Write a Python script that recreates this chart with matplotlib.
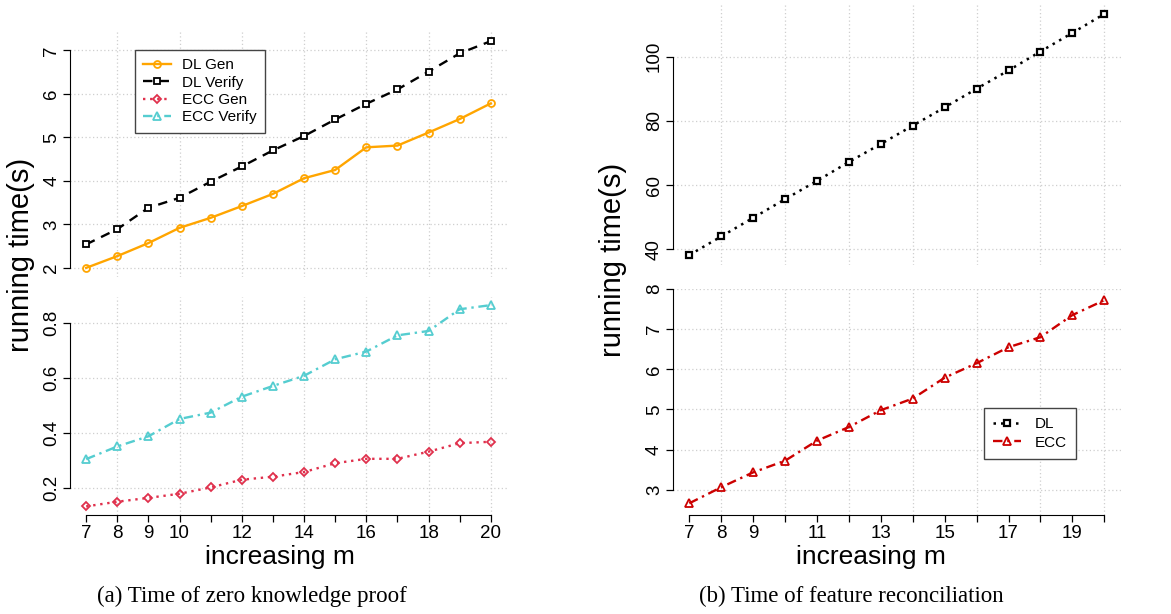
import matplotlib.pyplot as plt

plt.rcParams['font.family'] = ['Liberation Sans', 'DejaVu Sans']

# Data
m = list(range(7, 21))

# (a) zero knowledge proof
dl_gen = [2.00, 2.27, 2.57, 2.92, 3.15, 3.42, 3.70, 4.06, 4.25, 4.77, 4.81, 5.11, 5.42, 5.78]
dl_verify = [2.54, 2.89, 3.38, 3.61, 3.98, 4.33, 4.70, 5.03, 5.41, 5.77, 6.10, 6.51, 6.93, 7.21]
ecc_gen = [0.132, 0.149, 0.163, 0.178, 0.201, 0.229, 0.240, 0.257, 0.289, 0.305, 0.305, 0.331, 0.362, 0.367]
ecc_verify = [0.304, 0.350, 0.387, 0.450, 0.473, 0.531, 0.570, 0.607, 0.667, 0.695, 0.754, 0.770, 0.849, 0.864]

# (b) feature reconciliation
rec_dl = [38.2, 44.0, 49.8, 55.6, 61.3, 67.2, 72.8, 78.5, 84.2, 90.0, 95.7, 101.6, 107.4, 113.3]
rec_ecc = [2.66, 3.06, 3.43, 3.72, 4.22, 4.56, 4.98, 5.27, 5.79, 6.15, 6.55, 6.80, 7.35, 7.72]

xlabels_a = ['7', '8', '9', '10', '', '12', '', '14', '', '16', '', '18', '', '20']
xlabels_b = ['7', '8', '9', '', '11', '', '13', '', '15', '', '17', '', '19', '']

W, H = 1171, 614
fig = plt.figure(figsize=(W / 100, H / 100), dpi=100)


def add_axes(x0, x1, y0, y1):
    # pixel box -> figure fraction
    return fig.add_axes([x0 / W, 1 - y1 / H, (x1 - x0) / W, (y1 - y0) / H])


def style(ax, yticks, ylabels, xlim, ylim, xticklabels=None):
    ax.set_xlim(*xlim)
    ax.set_ylim(*ylim)
    for s in ['top', 'right']:
        ax.spines[s].set_visible(False)
    ax.spines['left'].set_bounds(yticks[0], yticks[-1])
    ax.set_yticks(yticks)
    ax.set_yticklabels(ylabels, rotation=90, va='center')
    ax.tick_params(direction='out', length=5, width=0.9, labelsize=13.5, pad=2)
    for xg in range(8, 21, 2):
        ax.axvline(xg, color='#cfcfcf', lw=0.9, dashes=(1, 2), zorder=0)
    for yg in yticks:
        ax.axhline(yg, color='#cfcfcf', lw=0.9, dashes=(1, 2), zorder=0)
    if xticklabels is None:
        ax.spines['bottom'].set_visible(False)
        ax.tick_params(axis='x', bottom=False, labelbottom=False)
    else:
        ax.spines['bottom'].set_bounds(7, 20)
        ax.set_xticks(m)
        ax.set_xticklabels(xticklabels)


xl = (6.48, 20.52)

# ---- (a)
ax1 = add_axes(70, 507, 32, 277)
style(ax1, [2, 3, 4, 5, 6, 7], ['2', '3', '4', '5', '6', '7'], xl, (1.79, 7.42))
ax2 = add_axes(70, 507, 297, 515)
style(ax2, [0.2, 0.4, 0.6, 0.8], ['0.2', '0.4', '0.6', '0.8'], xl, (0.1007, 0.8935), xlabels_a)

orange = '#FFA500'
crimson = '#E0304C'
turq = '#55CDD0'
h1, = ax1.plot(m, dl_gen, color=orange, lw=1.7, marker='o', ms=5, mfc='none', mew=1.3, label='DL Gen')
h2, = ax1.plot(m, dl_verify, color='black', lw=1.7, dashes=(4, 3), marker='s', ms=4.5, mfc='white',
               mew=1.3, label='DL Verify')
h3, = ax2.plot(m, ecc_gen, color=crimson, lw=1.7, dashes=(1, 2), marker='D', ms=4.5, mfc='none',
               mew=1.3, label='ECC Gen')
h4, = ax2.plot(m, ecc_verify, color=turq, lw=1.7, dashes=(4, 2, 1, 2), marker='^', ms=5.5, mfc='none',
               mew=1.3, label='ECC Verify')

leg1 = fig.legend(handles=[h1, h2, h3, h4], loc='upper left', bbox_to_anchor=(135 / W, 1 - 50 / H),
                  fontsize=11, frameon=True, fancybox=False, framealpha=1, edgecolor='#444444',
                  borderpad=0.55, labelspacing=0.22, handlelength=1.8, handletextpad=0.7, borderaxespad=0)
leg1.get_frame().set_linewidth(1.0)

# ---- (b)
ax3 = add_axes(672.7, 1120.9, 4, 265)
style(ax3, [40, 60, 80, 100], ['40', '60', '80', '100'], xl, (35.1, 116.4))
ax4 = add_axes(672.7, 1120.9, 289, 515)
style(ax4, [3, 4, 5, 6, 7, 8], ['3', '4', '5', '6', '7', '8'], xl, (2.368, 7.926), xlabels_b)

h5, = ax3.plot(m, rec_dl, color='black', lw=1.8, dashes=(1, 2), marker='s', ms=5, mfc='white',
               mew=1.6, label='DL')
h6, = ax4.plot(m, rec_ecc, color='#CC0000', lw=1.7, dashes=(4, 2, 1, 2), marker='^', ms=6, mfc='none',
               mew=1.3, label='ECC')

leg2 = fig.legend(handles=[h5, h6], loc='upper left', bbox_to_anchor=(984 / W, 1 - 408 / H),
                  fontsize=11, frameon=True, fancybox=False, framealpha=1, edgecolor='#444444',
                  borderpad=0.6, labelspacing=0.3, handlelength=1.8, handletextpad=0.9, borderaxespad=0)
leg2.get_frame().set_linewidth(1.0)

# labels
fig.text(21 / W, 1 - 255 / H, 'running time(s)', rotation=90, ha='center', va='center', fontsize=21)
fig.text(613 / W, 1 - 260 / H, 'running time(s)', rotation=90, ha='center', va='center', fontsize=21)
fig.text(280 / W, 1 - 557 / H, 'increasing m', ha='center', va='center', fontsize=19)
fig.text(871 / W, 1 - 557 / H, 'increasing m', ha='center', va='center', fontsize=19)

fig.text(252 / W, 1 - 596 / H, '(a) Time of zero knowledge proof', ha='center', va='center',
         fontsize=16.5, family='Liberation Serif')
fig.text(851 / W, 1 - 596 / H, '(b) Time of feature reconciliation', ha='center', va='center',
         fontsize=16.5, family='Liberation Serif')

fig.savefig('out.png', dpi=100)
